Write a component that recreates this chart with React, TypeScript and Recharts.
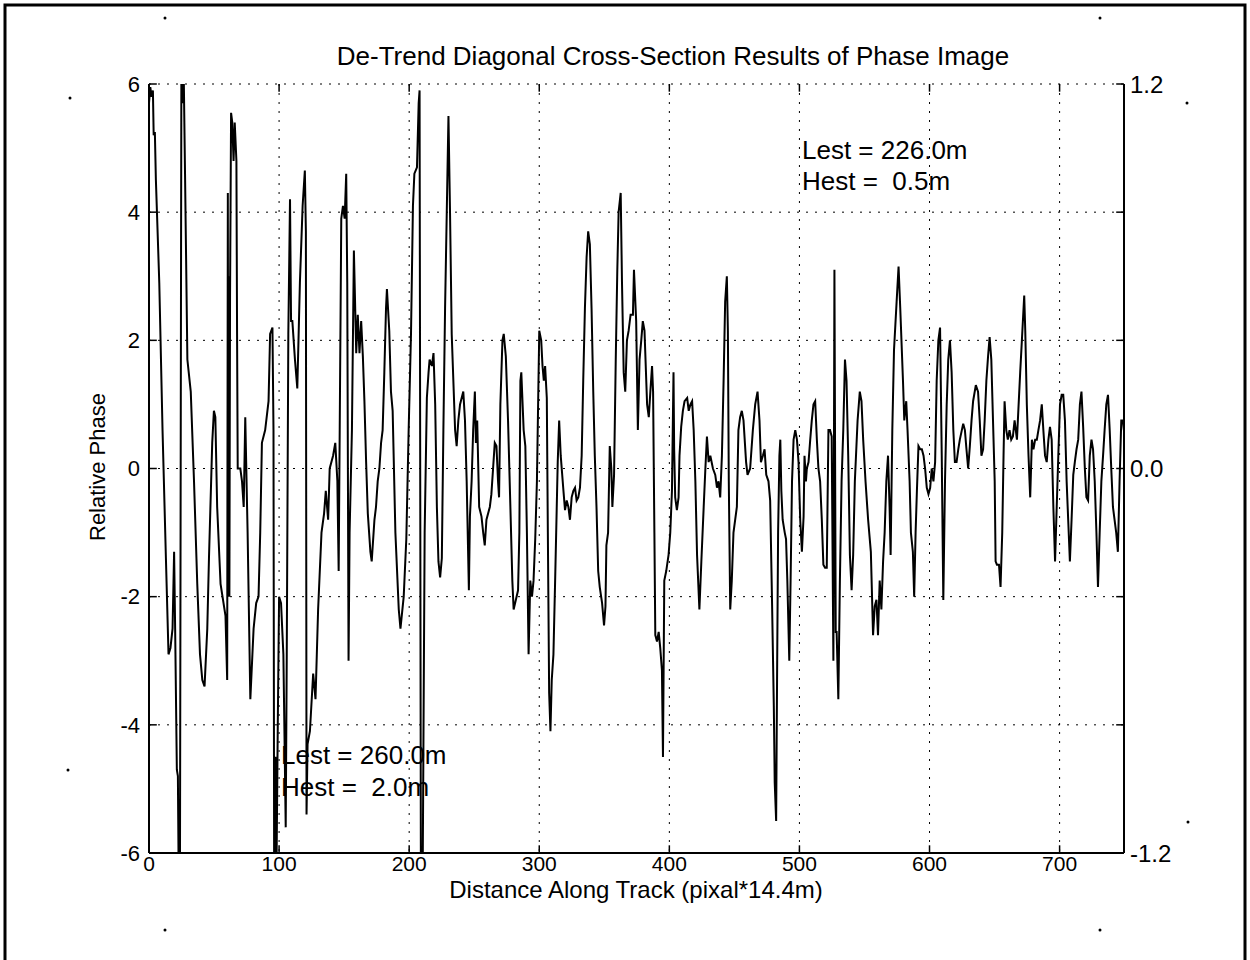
import { CartesianGrid, Line, LineChart, ReferenceLine, XAxis, YAxis } from "recharts";

const FONT = "'Liberation Sans', Arial, Helvetica, sans-serif";

const xTicks = [0, 100, 200, 300, 400, 500, 600, 700];
const yTicks = [-6, -4, -2, 0, 2, 4, 6];
const rightTicks = [-1.2, 0, 1.2];

// [distance, relative phase], left to right
const trace0: [number, number][] = [
  [0, 5.7], [1, 5.95], [2, 5.8], [3, 5.9], [3.6, 5.2], [4.5, 5.25], [5.3, 4.5], [7.9, 2.9],
  [10.4, 0.6], [13, -1.4], [15, -2.9], [16.5, -2.8], [18.1, -2.5], [19.3, -1.3], [20.1, -2.5],
  [21.4, -4.7], [22.2, -4.8], [22.8, -6.3], [23.8, -6.3], [24.9, 6.3], [25.8, 5.7], [26.6, 6.3],
  [27.7, 4.6], [29.5, 1.7], [32.1, 1.2], [34.6, -0.2], [37.1, -1.8], [39.2, -2.9], [41, -3.3],
  [42.7, -3.4], [44.8, -2.5], [46.1, -1.4], [48.6, 0.4], [49.9, 0.9], [51, 0.8], [52.4, -0.6],
  [55, -1.8], [58.8, -2.3], [60.1, -3.3], [60.6, 4.3], [61, -2.0], [61.4, 3.0], [61.8, -2.0],
  [62.3, 2.7], [63.1, 5.55], [64, 5.4], [65, 4.8], [65.9, 5.4], [67.2, 4.8], [67.7, 2.1],
  [68.2, 0], [70.2, 0], [71.5, -0.2], [72.8, -0.6], [74, 0.8], [74.8, 0], [75.8, -1],
  [77.9, -3.6], [80.4, -2.5], [82.4, -2.1], [84.2, -2], [85.5, -1], [86.8, 0.4], [89.3, 0.6],
  [91.9, 1.05], [93.1, 2.1],
];

const trace100: [number, number][] = [
  [94.9, 2.2], [95.7, 0.6], [96.2, -6.3], [97.2, -4.5], [98, -6.3], [99, -4], [100, -2],
  [101.5, -2.1], [103.3, -2.9], [105.1, -5.6], [105.9, -2.9], [107.1, 2.1], [108.4, 4.2],
  [109.2, 2.3], [110.2, 2.3], [112.2, 1.7], [114, 1.25], [116, 2.9], [118.1, 4.1], [119.8, 4.65],
  [120.6, 3.7], [121.1, -5.4], [121.9, -4.3], [123.7, -4.1], [126.2, -3.2], [128, -3.6],
  [130, -2.2], [132.6, -1], [134.6, -0.7], [135.9, -0.35], [137.7, -0.8], [138.9, 0],
  [141.5, 0.2], [143.2, 0.4], [144.8, -0.2], [145.8, -1.6], [146.6, 0.6], [147.8, 3.9],
  [149.1, 4.1], [150.4, 3.9], [151.6, 4.6], [152.4, 2.9], [153.4, -3], [154.2, -1], [156, 0.6],
  [157.5, 3.4], [159.3, 1.8], [160.5, 2.4], [161.8, 1.8], [163.1, 2.3], [164.4, 1.75],
  [165.6, 1.05], [166.9, 0.1], [168.2, -0.7], [170.2, -1.3], [171.2, -1.45], [173.3, -0.8],
  [174.5, -0.6], [175.8, -0.2], [177.1, 0], [178.4, 0.4], [179.6, 0.6], [180.9, 1.5],
  [182.2, 2.5], [182.9, 2.8], [184.7, 2.15], [186, 1.2], [187.3, 0.9],
];

const trace200: [number, number][] = [
  [189.4, -1.0], [192, -2.2], [193.3, -2.5], [195.8, -2.0], [197.8, -1.1], [199.6, 0.6],
  [201.4, 2.1], [202.9, 4.1], [204, 4.6], [206, 4.7], [207.3, 5.7], [208, 5.9], [209, -6.3],
  [210.4, -6.3], [211.9, -1.0], [213.6, 1.1], [214.9, 1.5], [215.7, 1.7], [217.5, 1.6],
  [218.7, 1.8], [220, 1.0], [221.3, -0.6], [222.5, -1.45], [223.8, -1.7], [225.1, -1.4],
  [226.3, 0.6], [227.6, 2.5], [228.9, 4.0], [230.2, 5.5], [231.4, 4.0], [232.7, 2.1],
  [235.3, 0.6], [236.5, 0.35], [237.8, 0.75], [239.1, 1.0], [241.6, 1.2], [242.9, 0.75],
  [244.2, -0.2], [245.4, -1.4], [245.9, -1.9], [246.7, -0.75], [248, -0.2], [249.2, 0.6],
  [250.5, 1.2], [251.3, 0.4], [252.3, 0.75], [253.8, -0.6], [255.6, -0.75], [256.9, -1.0],
  [258.1, -1.2], [259.4, -0.8], [262, -0.6], [263.2, -0.4], [264.5, 0.0], [265.8, 0.4],
  [267.1, 0.35], [268.3, -0.2], [269.1, -0.45], [270.1, 1.0], [271.7, 2.0], [272.7, 2.1],
  [274.3, 1.75], [276, 0.75], [277.8, -0.6], [279.3, -1.75], [280.3, -2.2],
];

const trace300: [number, number][] = [
  [283.7, -1.9], [284.7, -1.0], [285.5, 1.37], [286.2, 1.5], [288, 0.6], [289.3, 0.35],
  [290.5, -1.0], [291.8, -2.9], [293.1, -1.75], [294.4, -2.0], [295.6, -1.75], [296.9, -1.1],
  [298.2, -0.2], [300, 2.15], [301.5, 2.0], [302.5, 1.6], [303.5, 1.37], [304.5, 1.6],
  [305.8, 1.1], [306.6, -1.0], [307.6, -3.5], [308.6, -4.1], [309.6, -3.3], [310.9, -2.9],
  [312.2, -1.75], [314.2, 0.1], [315.3, 0.75], [316.5, 0.2], [318.6, -0.35], [319.8, -0.65],
  [321.1, -0.5], [322.4, -0.6], [323.6, -0.8], [324.9, -0.45], [326.2, -0.35], [327.5, -0.3],
  [328.7, -0.5], [330, -0.45], [331.3, -0.3], [332.6, 0.2], [333.8, 1.37], [335.1, 2.5],
  [336.4, 3.3], [337.6, 3.7], [338.9, 3.5], [340.2, 2.5], [341.5, 1.2], [342.7, 0.2],
  [344, -0.6], [345.3, -1.6], [346.5, -1.85], [348.3, -2.1], [349.8, -2.45], [350.9, -2.15],
  [351.6, -1.2], [352.9, -1.0], [354.2, 0.35], [355.4, 0.0], [356.2, -0.6], [357.5, -0.1],
  [358.8, 1.7], [360, 3.1], [361, 4.0], [362.6, 4.3], [363.6, 2.9], [364.9, 1.5], [366.1, 1.2],
  [367.4, 2.0], [368.7, 2.15], [370.2, 2.4], [372, 2.4], [372.8, 3.1], [374.5, 2.3],
  [375.8, 0.6], [377.1, 1.7], [378.4, 2.0], [379.6, 2.3], [380.9, 2.15],
];

const trace400: [number, number][] = [
  [382.9, 1.0], [384.2, 0.8], [385.4, 1.2], [386.7, 1.6], [387.5, 1.2], [388.5, -1.0],
  [389.2, -2.6], [390.5, -2.7], [391.8, -2.55], [393, -2.8], [394.3, -3.15], [395.1, -4.5],
  [396.1, -1.75], [397.6, -1.6], [399.4, -1.35], [400.7, -1.0], [402, -0.35], [403.2, 1.5],
  [403.7, 0.3], [404.5, -0.45], [405.8, -0.65], [407.1, -0.45], [407.8, 0.2], [409.1, 0.65],
  [410.4, 0.9], [411.7, 1.05], [413.7, 1.1], [414.9, 0.9], [416.2, 1.0], [417.5, 1.05],
  [418.7, 0.6], [420, -0.2], [421.3, -1.35], [423.1, -2.2], [424.6, -1.45], [426.4, -0.6],
  [427.7, 0.0], [428.9, 0.5], [430.2, 0.1], [431.5, 0.2], [433.5, 0.0], [435.3, -0.1],
  [436.6, -0.3], [437.8, -0.2], [439.1, -0.45], [440.4, 0.2], [441.7, 1.37], [442.9, 2.6],
  [444.2, 3.0], [445, 2.15], [445.7, -0.2], [446.8, -2.2], [448, -1.75], [449.3, -1.0],
  [451.9, -0.6], [453.1, 0.6], [454.4, 0.8], [455.7, 0.9], [457, 0.75], [459, 0.1],
  [460.1, -0.1], [462.1, 0.0], [464.2, 0.6], [466, 1.0], [467.8, 1.2], [469.3, 0.75],
  [470.4, 0.1], [471.9, 0.2], [473.2, 0.3], [474.5, -0.1], [476.2, -0.2], [477.5, -0.5],
];

const trace500: [number, number][] = [
  [479, -2.15], [480.3, -3.7], [481, -4.9], [482.1, -5.5], [482.8, -3.3], [483.6, -1.0],
  [484.6, 0.2], [485.3, 0.45], [486.1, -0.35], [487.1, -0.8], [488.7, -1.0], [489.7, -1.1],
  [490.7, -1.75], [492.2, -3.0], [493.2, -1.75], [494.3, -0.2], [495.5, 0.45], [496.8, 0.6],
  [498.1, 0.45], [499.3, 0.1], [500.6, -0.8], [501.9, -1.3], [503.2, -0.75], [503.9, 0.2],
  [505, -0.2], [505.7, 0.0], [507, 0.1], [508.3, 0.45], [509.5, 0.75], [510.8, 1.0],
  [512.1, 1.05], [513.4, 0.45], [514.6, 0.0], [515.9, -0.2], [517.2, -0.8], [518.4, -1.5],
  [519.7, -1.55], [521, -1.55], [522.3, 0.6], [523.5, 0.6], [524.8, 0.5], [526.1, -3.0],
  [526.9, 3.1], [527.9, -2.55], [528.6, -2.55], [529.9, -3.6], [531.1, -1.75], [532.4, -0.2],
  [533.7, 0.6], [535, 1.7], [536.2, 1.37], [537.5, 0.2], [538.8, -1.35], [540.1, -1.9],
  [541.3, -1.35], [542.6, -0.2], [544.7, 0.75], [546.4, 1.2], [547.7, 1.05], [549, 0.45],
  [550.8, -0.2], [552.8, -0.8], [554.9, -1.3], [556.6, -2.6], [557.9, -2.15], [559.2, -2.05],
  [560.4, -2.6], [561.7, -1.75], [563, -2.2], [564.3, -1.45], [565.5, -1.0], [566.8, -0.2],
  [568.1, 0.2], [569.3, -0.6], [570.1, -1.35], [571.4, 0.6], [572.7, 1.85],
];

const trace600: [number, number][] = [
  [574.7, 2.6], [576.2, 3.15], [577.5, 2.5], [579.6, 1.37], [580.6, 0.75], [582.1, 1.05],
  [583.1, 0.6], [584.7, -0.2], [585.7, -1.0], [587.2, -1.3], [588.2, -2.0], [589.3, -1.0],
  [590.3, -0.35], [591.5, 0.35], [592.8, 0.3], [594.1, 0.3], [595.4, 0.2], [596.6, 0.0],
  [597.9, -0.3], [599.2, -0.4], [600.5, -0.3], [601.7, 0.0], [603, -0.2], [604.3, 0.1],
  [605.5, 1.37], [606.8, 2.0], [608.1, 2.2], [609.4, 0.2], [610.6, -2.05], [611.9, -0.2],
  [613.2, 1.0], [614.4, 1.7], [615.7, 2.0], [617, 1.5], [618.3, 0.6], [619.5, 0.1],
  [620.8, 0.1], [622.1, 0.3], [623.3, 0.45], [625.9, 0.7], [627.2, 0.6], [628.4, 0.3],
  [629.7, 0.0], [631, 0.35], [632.3, 0.75], [633.5, 1.05], [635.6, 1.3], [637.3, 1.2],
  [638.6, 0.75], [639.9, 0.2], [641.2, 0.3], [642.4, 0.75], [643.7, 1.37], [645, 1.75],
  [646.2, 2.05], [647.5, 1.7], [648.8, 0.75], [650.1, -0.2], [650.8, -1.45], [651.8, -1.5],
  [653.4, -1.5], [654.6, -1.85], [655.9, -1.0], [656.9, 0.2], [657.7, 1.05], [659, 0.6],
  [660.2, 0.45], [661.5, 0.6], [662.8, 0.45], [664.1, 0.5],
];

const trace700: [number, number][] = [
  [665.4, 0.75], [667.2, 0.45], [668.5, 1.0], [669.7, 1.5], [671, 2.0], [672.8, 2.7],
  [673.6, 2.15], [674.8, 1.0], [676.1, 0.2], [677.4, -0.45], [678.7, 0.45], [679.9, 0.3],
  [681.2, 0.45], [682.5, 0.45], [683.7, 0.6], [685, 0.75], [686.3, 1.0], [687.5, 0.6],
  [688.8, 0.2], [690.1, 0.1], [691.4, 0.45], [692.6, 0.65], [693.9, 0.45], [695.2, -0.6],
  [696.5, -1.45], [697.7, -0.65], [699, 0.2], [700.3, 1.0], [701.6, 1.15], [702.8, 1.15],
  [704.1, 0.75], [705.4, -0.2], [706.6, -0.8], [707.9, -1.45], [709.2, -0.8], [710.5, -0.1],
  [711.7, 0.1], [713, 0.3], [714.3, 0.45], [715.6, 1.0], [716.8, 1.2], [718.1, 0.65],
  [719.4, 0.0], [720.6, -0.45], [721.9, -0.5], [723.2, 0.2], [724.5, 0.45], [725.7, 0.3],
  [727, -0.2], [728.3, -1.0], [729.5, -1.85], [730.8, -1.0], [732.1, -0.2], [733.4, 0.2],
  [734.6, 0.6], [735.9, 1.0], [737.2, 1.15], [738.5, 0.6], [739.7, 0.0], [741, -0.6],
  [743.5, -1.0], [744.8, -1.3], [746.1, -0.2], [747.4, 0.75], [748.6, 0.75], [749.4, 0.6],
];

const traceParts = [trace0, trace100, trace200, trace300, trace400, trace500, trace600, trace700];

const X_MAX = 749.5;

const data = traceParts.flat().map(([d, p]) => ({ d, p }));

// stray print marks around the page
const specks: [number, number][] = [
  [165, 18], [1100, 18], [70, 98], [1187, 103], [68, 770], [1188, 822], [165, 930], [1100, 930],
];

const tickStyle = { fill: "#000", fontSize: 21, fontFamily: FONT };
const axisLineStyle = { stroke: "#000", strokeWidth: 2 };

export default function App() {
  return (
    <div style={{ position: "absolute", left: 0, top: 0, width: 1250, height: 960, background: "#fff" }}>
      <LineChart
        width={1250}
        height={960}
        data={data}
        margin={{ top: 84, right: 66, bottom: 67, left: 89 }}
      >
        <CartesianGrid
          xAxisId="bottom"
          yAxisId="left"
          stroke="#000"
          strokeWidth={1}
          strokeDasharray="2 7"
        />
        <XAxis
          xAxisId="bottom"
          type="number"
          dataKey="d"
          domain={[0, X_MAX]}
          ticks={xTicks}
          interval={0}
          allowDataOverflow
          tickLine={false}
          axisLine={axisLineStyle}
          tick={tickStyle}
          tickSize={2}
          tickMargin={1}
          height={40}
        />
        <XAxis
          xAxisId="top"
          orientation="top"
          type="number"
          domain={[0, X_MAX]}
          ticks={xTicks}
          allowDataOverflow
          tick={false}
          tickLine={false}
          axisLine={axisLineStyle}
          height={0}
        />
        <YAxis
          yAxisId="left"
          type="number"
          domain={[-6, 6]}
          ticks={yTicks}
          interval={0}
          allowDataOverflow
          tickLine={false}
          axisLine={axisLineStyle}
          tick={{ ...tickStyle, fontSize: 22 }}
          tickSize={6}
          tickMargin={3}
          width={60}
        />
        <YAxis
          yAxisId="right"
          orientation="right"
          type="number"
          domain={[-1.2, 1.2]}
          ticks={rightTicks}
          interval={0}
          allowDataOverflow
          tickFormatter={(v: number) => v.toFixed(1)}
          tickLine={false}
          axisLine={axisLineStyle}
          tick={{ ...tickStyle, fontSize: 24 }}
          tickSize={4}
          tickMargin={2}
          width={60}
        />
        {xTicks.map((t) => (
          <ReferenceLine
            key={`xb${t}`}
            xAxisId="bottom"
            yAxisId="left"
            segment={[{ x: t, y: -6 }, { x: t, y: -5.88 }]}
            stroke="#000"
            strokeWidth={1.5}
          />
        ))}
        {xTicks.map((t) => (
          <ReferenceLine
            key={`xt${t}`}
            xAxisId="bottom"
            yAxisId="left"
            segment={[{ x: t, y: 6 }, { x: t, y: 5.88 }]}
            stroke="#000"
            strokeWidth={1.5}
          />
        ))}
        {yTicks.map((t) => (
          <ReferenceLine
            key={`yl${t}`}
            xAxisId="bottom"
            yAxisId="left"
            segment={[{ x: 0, y: t }, { x: 6, y: t }]}
            stroke="#000"
            strokeWidth={1.5}
          />
        ))}
        {yTicks.map((t) => (
          <ReferenceLine
            key={`yr${t}`}
            xAxisId="bottom"
            yAxisId="left"
            segment={[{ x: X_MAX - 6, y: t }, { x: X_MAX, y: t }]}
            stroke="#000"
            strokeWidth={1.5}
          />
        ))}
        <Line
          xAxisId="bottom"
          yAxisId="left"
          type="linear"
          dataKey="p"
          stroke="#000"
          strokeWidth={2}
          dot={false}
          activeDot={false}
          isAnimationActive={false}
        />
      </LineChart>

      <svg
        width={1250}
        height={960}
        style={{ position: "absolute", left: 0, top: 0, pointerEvents: "none" }}
        fontFamily={FONT}
      >
        <path d="M5 960 V5 H1245 V960" fill="none" stroke="#000" strokeWidth={3} />
        <text x={673} y={65} fontSize={26} textAnchor="middle" fill="#000">
          De-Trend Diagonal Cross-Section Results of Phase Image
        </text>
        <text x={636} y={898} fontSize={24} textAnchor="middle" fill="#000">
          Distance Along Track (pixal*14.4m)
        </text>
        <text
          x={105}
          y={467}
          fontSize={22}
          textAnchor="middle"
          fill="#000"
          transform="rotate(-90 105 467)"
        >
          Relative Phase
        </text>
        <g fontSize={26} fill="#000">
          <text x={802} y={159}>Lest = 226.0m</text>
          <text x={802} y={190}>{"Hest =\u00A0 0.5m"}</text>
          <text x={281} y={764}>Lest = 260.0m</text>
          <text x={281} y={796}>{"Hest =\u00A0 2.0m"}</text>
        </g>
        {specks.map(([x, y]) => (
          <circle key={`${x}-${y}`} cx={x} cy={y} r={1.5} fill="#000" />
        ))}
      </svg>
    </div>
  );
}
